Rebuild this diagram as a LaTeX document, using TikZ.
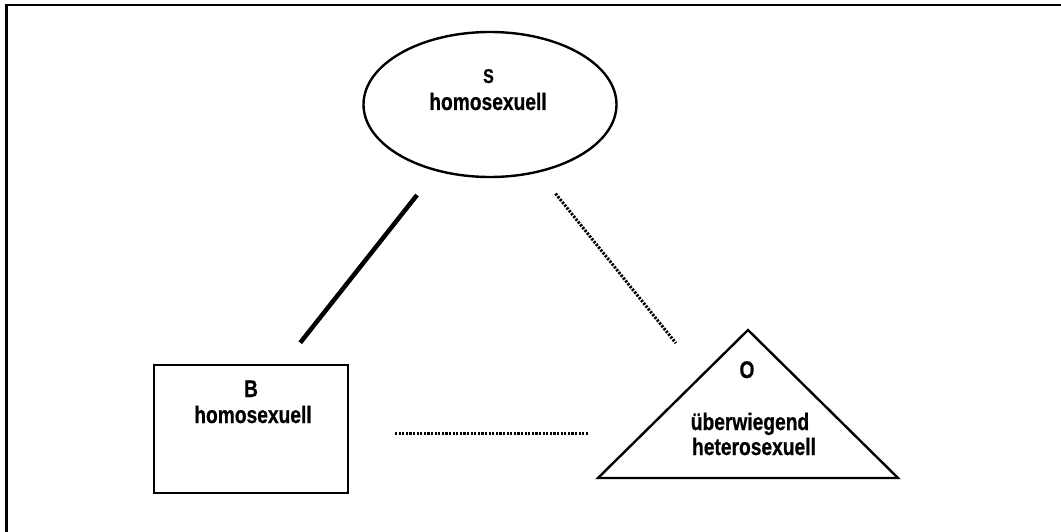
\documentclass[tikz,border=0pt]{standalone}
\usepackage{fontspec}
\usetikzlibrary{shapes.geometric}
\newfontfamily\labfont{Liberation Sans}[FakeStretch=0.8, BoldFeatures={FakeBold=0.6}]
\begin{document}
\begin{tikzpicture}[x=1pt,y=-1pt,
  lab/.style={font=\labfont\bfseries\fontsize{24}{26}\selectfont, anchor=base, inner sep=0pt},
  smalllab/.style={font=\labfont\bfseries\fontsize{20}{22}\selectfont, anchor=base, inner sep=0pt},
  outline/.style={draw=black, line width=2.4pt},
  solidlink/.style={draw=black, line width=4.5pt},
  dotlink/.style={draw=black, line width=3pt, dash pattern=on 2.2pt off 1.4pt},
]
\useasboundingbox (0,0) rectangle (1061,532);
\fill[white] (0,0) rectangle (1061,532);

% open frame: top and left edges only
\draw[line width=2.6pt] (6.5,532) -- (6.5,5) -- (1061,5);

% S: ellipse
\node[outline, ellipse, minimum width=253, minimum height=145, inner sep=0pt] (S) at (490,104.5) {};
\node[smalllab] (Stitle) at (488.5,83) {S};
\node[lab] (Stext) at (488,110) {homosexuell};

% B: rectangle
\node[outline, rectangle, minimum width=194, minimum height=128, inner sep=0pt] (B) at (251,429) {};
\node[lab] (Btitle) at (251,397) {B};
\node[lab] (Btext) at (253,423) {homosexuell};

% O: triangle
\coordinate (Oapex) at (748,330);
\coordinate (Oleft) at (598,478);
\coordinate (Oright) at (898,478);
\draw[outline, line join=miter] (Oapex) -- (Oleft) -- (Oright) -- cycle;
\node[inner sep=0pt, minimum size=1pt] (O) at (745,429) {};
\node[lab] (Otitle) at (747,378) {O};
\node[lab] (Otext1) at (750,430) {überwiegend};
\node[lab] (Otext2) at (754,455) {heterosexuell};

% relations
\draw[solidlink, shorten <=115.4pt, shorten >=110pt] ([xshift=-1.4pt]S.center) -- ([xshift=-19pt]B.center);
\draw[dotlink, shorten <=114.4pt, shorten >=109.3pt] ([xshift=-6.2pt]S.center) -- (O);
\draw[dotlink, shorten <=144pt, shorten >=157pt] ([yshift=-4pt]B.center) -- ([yshift=-4pt]O.center);
\end{tikzpicture}
\end{document}
